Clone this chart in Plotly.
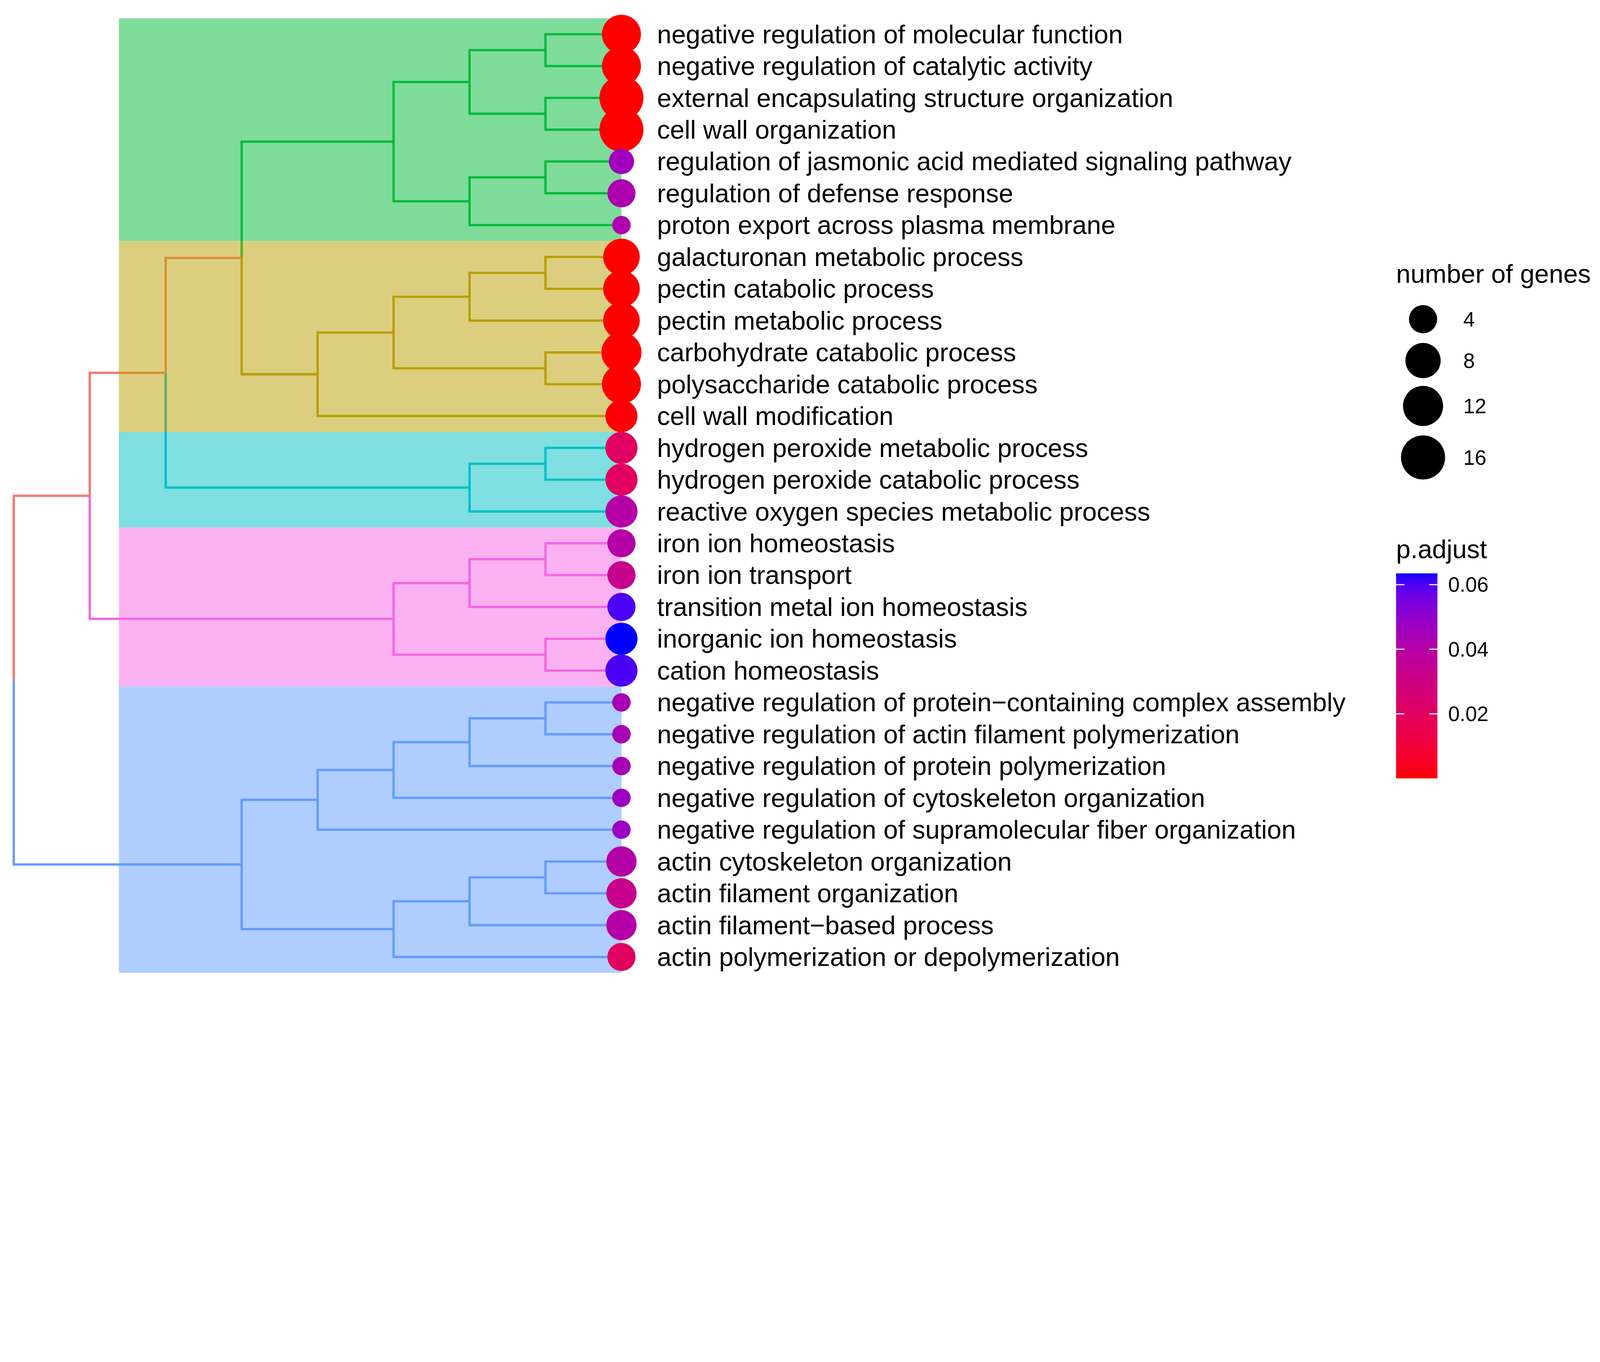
import numpy as np
import plotly.graph_objects as go

# ---------------- data ----------------
terms = [
    "negative regulation of molecular function",
    "negative regulation of catalytic activity",
    "external encapsulating structure organization",
    "cell wall organization",
    "regulation of jasmonic acid mediated signaling pathway",
    "regulation of defense response",
    "proton export across plasma membrane",
    "galacturonan metabolic process",
    "pectin catabolic process",
    "pectin metabolic process",
    "carbohydrate catabolic process",
    "polysaccharide catabolic process",
    "cell wall modification",
    "hydrogen peroxide metabolic process",
    "hydrogen peroxide catabolic process",
    "reactive oxygen species metabolic process",
    "iron ion homeostasis",
    "iron ion transport",
    "transition metal ion homeostasis",
    "inorganic ion homeostasis",
    "cation homeostasis",
    "negative regulation of protein\u2212containing complex assembly",
    "negative regulation of actin filament polymerization",
    "negative regulation of protein polymerization",
    "negative regulation of cytoskeleton organization",
    "negative regulation of supramolecular fiber organization",
    "actin cytoskeleton organization",
    "actin filament organization",
    "actin filament\u2212based process",
    "actin polymerization or depolymerization",
]
gene_count = [11, 11, 16, 16, 3, 4, 2, 9, 9, 9, 12, 11, 6, 6, 6, 6, 4, 4, 4, 6,
              6, 2, 2, 2, 2, 2, 5, 5, 5, 4]
p_adjust = [2.1e-6, 2.1e-6, 1.5e-6, 1.5e-6, 0.046, 0.042, 0.042, 3e-6, 3e-6, 3e-6,
            2e-6, 2e-6, 0.0008, 0.020, 0.020, 0.040, 0.040, 0.033, 0.0605, 0.0635,
            0.0605, 0.044, 0.044, 0.044, 0.047, 0.047, 0.040, 0.033, 0.040, 0.020]
cluster = [1, 1, 1, 1, 1, 1, 1, 2, 2, 2, 2, 2, 2, 3, 3, 3, 4, 4, 4, 4,
           4, 5, 5, 5, 5, 5, 5, 5, 5, 5]
cluster_colors = {0: "#F8766D", 1: "#00BA38", 2: "#B79F00", 3: "#00BFC4",
                  4: "#F564E3", 5: "#619CFF"}

# dendrogram merges: (node, left, right, height); leaves are "L<row>"
merges = [
    ("g12", "L1", "L2", 1), ("g34", "L3", "L4", 1), ("g1234", "g12", "g34", 2),
    ("g56", "L5", "L6", 1), ("g567", "g56", "L7", 2), ("G", "g1234", "g567", 3),
    ("o89", "L8", "L9", 1), ("o8910", "o89", "L10", 2), ("o1112", "L11", "L12", 1),
    ("o812", "o8910", "o1112", 3), ("O", "o812", "L13", 4),
    ("c1415", "L14", "L15", 1), ("C", "c1415", "L16", 2),
    ("p1718", "L17", "L18", 1), ("p1719", "p1718", "L19", 2),
    ("p2021", "L20", "L21", 1), ("P", "p1719", "p2021", 3),
    ("b2223", "L22", "L23", 1), ("b2224", "b2223", "L24", 2),
    ("b2225", "b2224", "L25", 3), ("b2226", "b2225", "L26", 4),
    ("b2728", "L27", "L28", 1), ("b2729", "b2728", "L29", 2),
    ("b2730", "b2729", "L30", 3), ("B", "b2226", "b2730", 5),
    ("GO", "G", "O", 5), ("GOC", "GO", "C", 6), ("GOCP", "GOC", "P", 7),
    ("root", "GOCP", "B", 8),
]

size_breaks = [4, 8, 12, 16]
color_ticks = [0.02, 0.04, 0.06]

# ---------------- page geometry ----------------
# layout is designed in reference pixels (5624 x 3487); the page is rendered
# with a CSS viewport of 4096 px wide, so every pixel quantity is scaled by S.
REF_W, REF_H = 5624, 3487
S = 4096 / REF_W
OFF = 8  # default body margin of the html page
FW = 4096 - 2 * OFF
FH = int(round(REF_H * S)) - 2 * OFF

def px(v):  # reference pixel length -> css pixel length
    return v * S

# ---------------- helpers ----------------
def hex_to_rgb(h):
    return [int(h[i:i + 2], 16) for i in (1, 3, 5)]

def srgb_to_lab(h):
    r, g, b = [c / 255 for c in hex_to_rgb(h)]
    lin = lambda c: c / 12.92 if c <= 0.04045 else ((c + 0.055) / 1.055) ** 2.4
    R, G, B = lin(r), lin(g), lin(b)
    X = 0.4124 * R + 0.3576 * G + 0.1805 * B
    Y = 0.2126 * R + 0.7152 * G + 0.0722 * B
    Z = 0.0193 * R + 0.1192 * G + 0.9505 * B
    f = lambda t: t ** (1 / 3) if t > 0.008856 else 7.787 * t + 16 / 116
    fx, fy, fz = f(X / 0.95047), f(Y / 1.0), f(Z / 1.08883)
    return 116 * fy - 16, 500 * (fx - fy), 200 * (fy - fz)

def lab_to_hex(L, a, b):
    fy = (L + 16) / 116
    fx = fy + a / 500
    fz = fy - b / 200
    finv = lambda t: t ** 3 if t ** 3 > 0.008856 else (t - 16 / 116) / 7.787
    X, Y, Z = 0.95047 * finv(fx), finv(fy), 1.08883 * finv(fz)
    R = 3.2406 * X - 1.5372 * Y - 0.4986 * Z
    G = -0.9689 * X + 1.8758 * Y + 0.0415 * Z
    B = 0.0557 * X - 0.2040 * Y + 1.0570 * Z
    def gam(c):
        c = min(max(c, 0), 1)
        return 12.92 * c if c <= 0.0031308 else 1.055 * c ** (1 / 2.4) - 0.055
    return "#%02X%02X%02X" % tuple(int(round(gam(c) * 255)) for c in (R, G, B))

lab_lo, lab_hi = srgb_to_lab("#FF0000"), srgb_to_lab("#0000FF")
colorscale = []
for t in np.linspace(0, 1, 41):
    L = [lab_lo[i] + (lab_hi[i] - lab_lo[i]) * t for i in range(3)]
    colorscale.append([float(t), lab_to_hex(*L)])

def rgba(h, a):
    r, g, b = hex_to_rgb(h)
    return f"rgba({r},{g},{b},{a})"

nmin, nmax = min(gene_count), max(gene_count)
def diam(n):  # point diameter (reference px), area-type size scale
    return 65 + 90 * np.sqrt((n - nmin) / (nmax - nmin))

cmin, cmax = min(p_adjust), max(p_adjust)

# ---------------- tree layout ----------------
max_h = max(m[3] for m in merges)
pos = {}
node_clusters = {}
for i in range(len(terms)):
    pos[f"L{i + 1}"] = (max_h, i + 1)
    node_clusters[f"L{i + 1}"] = {cluster[i]}
for name, a, b, h in merges:
    pos[name] = (max_h - h, (pos[a][1] + pos[b][1]) / 2)
    node_clusters[name] = node_clusters[a] | node_clusters[b]

def node_color(n):
    cs = node_clusters[n]
    return cluster_colors[list(cs)[0]] if len(cs) == 1 else cluster_colors[0]

segs = {}
for name, a, b, h in merges:
    px_, py_ = pos[name]
    for ch in (a, b):
        cx, cy = pos[ch]
        xs, ys = segs.setdefault(node_color(ch), ([], []))
        xs += [px_, px_, cx, None]
        ys += [py_, cy, cy, None]

fig = go.Figure()
for col, (xs, ys) in segs.items():
    fig.add_trace(go.Scatter(x=xs, y=ys, mode="lines",
                             line=dict(color=col, width=px(8)),
                             hoverinfo="skip", showlegend=False))

# cluster highlight rectangles (translucent, drawn over the branches)
hl_left = 1.384
for c in sorted(set(cluster)):
    rows = [i + 1 for i in range(len(terms)) if cluster[i] == c]
    y0, y1 = min(rows) - 0.5, max(rows) + 0.5
    fig.add_trace(go.Scatter(x=[hl_left, max_h, max_h, hl_left, hl_left],
                             y=[y0, y0, y1, y1, y0], mode="lines", fill="toself",
                             fillcolor=rgba(cluster_colors[c], 0.5),
                             line=dict(width=0), hoverinfo="skip", showlegend=False))

# leaf dots
fig.add_trace(go.Scatter(
    x=[max_h] * len(terms), y=list(range(1, len(terms) + 1)), mode="markers",
    marker=dict(size=[px(diam(n)) for n in gene_count], color=p_adjust,
                colorscale=colorscale, cmin=cmin, cmax=cmax, showscale=False,
                line=dict(width=0), opacity=1),
    text=terms, hoverinfo="text", showlegend=False))

FONT = "Liberation Sans, Arial, Helvetica, sans-serif"
F_MAIN, F_SMALL = px(91.2), px(73)
annotations = []
for i, t in enumerate(terms):
    annotations.append(dict(x=max_h + 0.46, y=i + 1, xref="x", yref="y", text=t,
                            showarrow=False, xanchor="left", yanchor="middle",
                            font=dict(family=FONT, size=F_MAIN, color="black")))

# ---------------- size legend (overlay axes in reference pixels) ----------------
leg_y = [1122, 1267.5, 1427, 1608]
fig.add_trace(go.Scatter(x=[5002] * len(size_breaks), y=leg_y, mode="markers",
                         marker=dict(size=[px(diam(n)) for n in size_breaks],
                                     color="#000000", opacity=1, line=dict(width=0)),
                         xaxis="x2", yaxis="y2", hoverinfo="skip", showlegend=False))
for v, yy in zip(size_breaks, leg_y):
    annotations.append(dict(x=5141, y=yy, xref="x2", yref="y2", text=str(v),
                            showarrow=False, xanchor="left", yanchor="middle",
                            font=dict(family=FONT, size=F_SMALL, color="black")))
annotations.append(dict(x=4905, y=963, xref="x2", yref="y2", text="number of genes",
                        showarrow=False, xanchor="left", yanchor="middle",
                        font=dict(family=FONT, size=F_MAIN, color="black")))
annotations.append(dict(x=4905, y=1930, xref="x2", yref="y2", text="p.adjust",
                        showarrow=False, xanchor="left", yanchor="middle",
                        font=dict(family=FONT, size=F_MAIN, color="black")))

# ---------------- colour bar (heatmap on its own axes) ----------------
cb_x0, cb_x1, cb_top, cb_bot = 4907, 5053, 2015.5, 2736.5
nb = 200
edges = np.linspace(cmin, cmax, nb + 1)
zc = ((edges[:-1] + edges[1:]) / 2).reshape(-1, 1)
fig.add_trace(go.Heatmap(z=zc, x=[0, 1], y=edges, colorscale=colorscale,
                         zmin=cmin, zmax=cmax, showscale=False, hoverinfo="skip",
                         xaxis="x3", yaxis="y3"))
tx, ty = [], []
for v in color_ticks:
    tx += [0, 0.2, None, 0.8, 1, None]
    ty += [v, v, None, v, v, None]
fig.add_trace(go.Scatter(x=tx, y=ty, mode="lines", line=dict(color="white", width=px(4)),
                         xaxis="x3", yaxis="y3", hoverinfo="skip", showlegend=False))

# ---------------- axes ----------------
def ref_from_css(c):  # css coordinate inside figure -> reference pixel
    return (c + OFF) / S

XPX0, XPX_PER = 48.4, 267.0          # tree x: ref px = XPX0 + XPX_PER * x
ROW0, ROW_SP = 120.3, 111.85         # rows: ref px = ROW0 + ROW_SP * (row - 1)
x_lo = (ref_from_css(0) - XPX0) / XPX_PER
x_hi = (ref_from_css(FW) - XPX0) / XPX_PER
y_top = 1 + (ref_from_css(0) - ROW0) / ROW_SP
y_bot = 1 + (ref_from_css(FH) - ROW0) / ROW_SP

def xfrac(p):
    return (p * S - OFF) / FW

def yfrac(p):
    return 1 - (p * S - OFF) / FH

fig.update_layout(
    width=FW, height=FH, margin=dict(l=0, r=0, t=0, b=0, autoexpand=False),
    plot_bgcolor="white", paper_bgcolor="white",
    xaxis=dict(range=[x_lo, x_hi], visible=False, domain=[0, 1]),
    yaxis=dict(range=[y_bot, y_top], visible=False, domain=[0, 1]),
    xaxis2=dict(range=[ref_from_css(0), ref_from_css(FW)], visible=False,
                overlaying="x", anchor="y2"),
    yaxis2=dict(range=[ref_from_css(FH), ref_from_css(0)], visible=False,
                overlaying="y", anchor="x2"),
    xaxis3=dict(range=[0, 1], visible=False, domain=[xfrac(cb_x0), xfrac(cb_x1)],
                anchor="y3"),
    yaxis3=dict(range=[cmin, cmax], domain=[yfrac(cb_bot), yfrac(cb_top)], anchor="x3",
                side="right", showgrid=False, zeroline=False, showline=False, ticks="",
                tickvals=color_ticks, ticktext=[f"{v:.2f}" for v in color_ticks],
                tickfont=dict(family=FONT, size=F_SMALL, color="black"),
                ticklabelstandoff=int(round(px(36)))),
    annotations=annotations,
    showlegend=False,
)

fig.write_html("out.html")
